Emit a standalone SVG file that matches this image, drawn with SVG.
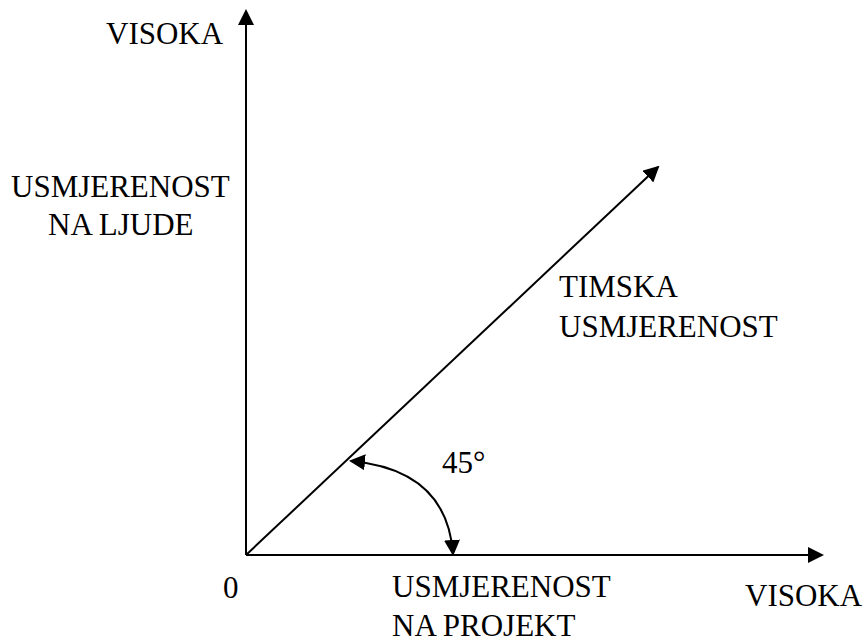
<svg xmlns="http://www.w3.org/2000/svg" width="864" height="641" viewBox="0 0 864 641">
<defs>
<marker id="ah" markerUnits="userSpaceOnUse" markerWidth="16" markerHeight="16" refX="14" refY="8" orient="auto-start-reverse" viewBox="0 0 16 16">
<path d="M0,0 L16,8 L0,16 z" fill="#000"/>
</marker>
<style>
.ln{stroke:#000;stroke-width:2;fill:none}
</style>
</defs>
<rect width="864" height="641" fill="#fff"/>
<g id="connectors">
<line class="ln" x1="246" y1="555" x2="246" y2="11" marker-end="url(#ah)"/>
<line class="ln" x1="246" y1="555" x2="822" y2="555" marker-end="url(#ah)"/>
<line class="ln" x1="246" y1="555" x2="658" y2="167" marker-end="url(#ah)"/>
<path class="ln" d="M351 461 Q447 470 453 554" marker-start="url(#ah)" marker-end="url(#ah)"/>
</g>
<g id="labels" font-family="'Liberation Serif', 'Times New Roman', serif" font-size="31" fill="#000">
<text x="106" y="44">VISOKA</text>
<text x="11" y="197">USMJERENOST</text>
<text x="48" y="235">NA LJUDE</text>
<text x="559" y="297">TIMSKA</text>
<text x="559" y="337">USMJERENOST</text>
<text x="442" y="473">45°</text>
<text x="223" y="598">0</text>
<text x="392" y="597">USMJERENOST</text>
<text x="392" y="636">NA PROJEKT</text>
<text x="745" y="606">VISOKA</text>
</g>
</svg>
